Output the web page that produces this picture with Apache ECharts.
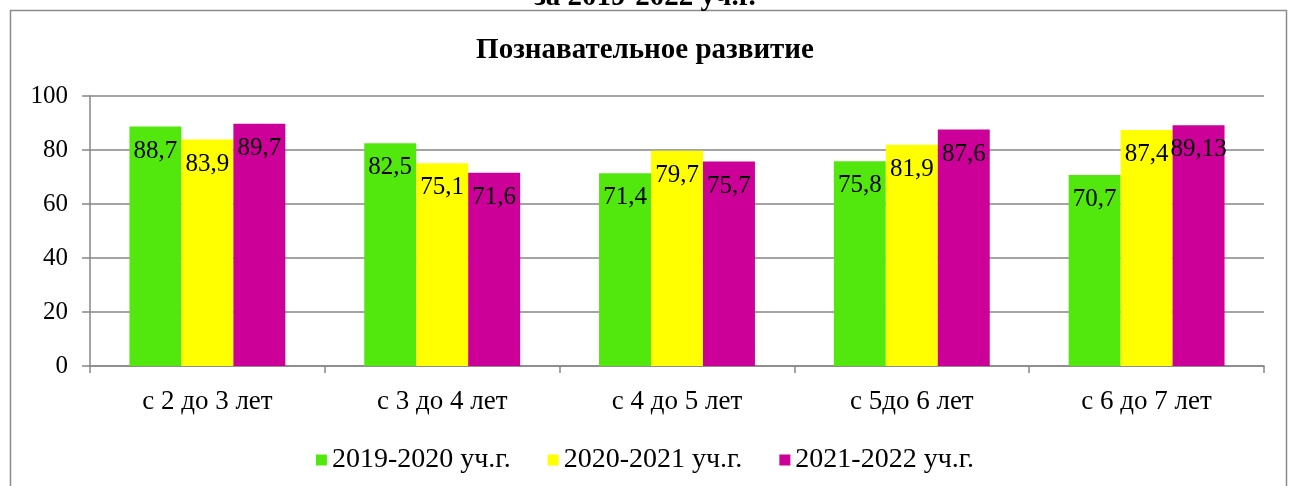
<!DOCTYPE html>
<html>
<head>
<meta charset="utf-8">
<script src="https://cdn.jsdelivr.net/npm/echarts@6/dist/echarts.min.js"></script>
<style>
  html, body { margin: 0; padding: 0; background: #fff; }
  #chart { width: 1290px; height: 486px; }
</style>
</head>
<body>
<div id="chart"></div>
<script>
// данные диаграммы
const categories = ['с 2 до 3 лет', 'с 3 до 4 лет', 'с 4 до 5 лет', 'с 5до 6 лет', 'с 6 до 7 лет']
const seriesNames = ['2019-2020 уч.г.', '2020-2021 уч.г.', '2021-2022 уч.г.']
const values2019 = [88.7, 82.5, 71.4, 75.8, 70.7]
const values2020 = [83.9, 75.1, 79.7, 81.9, 87.4]
const values2021 = [89.7, 71.6, 75.7, 87.6, 89.13]
const labels2021 = ['89,7', '71,6', '75,7', '87,6', '89,13']
const yTicks = [0, 20, 40, 60, 80, 100]

const colors = ['#52E80E', '#FFFF00', '#CC0099']
const font = '"Liberation Serif", "Times New Roman", serif'

const chart = echarts.init(document.getElementById('chart'))

const makeSeries = (name, data, color, labels) => ({
  name,
  type: 'bar',
  data,
  barGap: '0%',
  barCategoryGap: '33.6%',
  itemStyle: { color },
  label: {
    show: true,
    position: 'insideTop',
    distance: 12,
    color: '#000',
    fontFamily: font,
    fontSize: 25,
    formatter: p => labels ? labels[p.dataIndex] : String(p.value).replace('.', ',')
  }
})

const option = {
  animation: false,
  textStyle: { fontFamily: font },
  graphic: [
    {
      type: 'rect',
      shape: { x: 10.5, y: 10.5, width: 1276, height: 500 },
      style: { fill: 'none', stroke: '#8c8c8c', lineWidth: 1.5 },
      silent: true
    },
    {
      type: 'text',
      left: 'center',
      top: -17,
      style: { text: 'за 2019-2022 уч.г.', font: 'bold 29px ' + font, fill: '#000' }
    }
  ],
  title: {
    text: 'Познавательное развитие',
    left: 'center',
    top: 31,
    textStyle: { fontFamily: font, fontSize: 29, fontWeight: 'bold', color: '#000' }
  },
  legend: {
    top: 441,
    left: 'center',
    itemWidth: 11,
    itemHeight: 11,
    itemGap: 37,
    icon: 'rect',
    textStyle: { fontFamily: font, fontSize: 28, color: '#000', padding: [0, 0, 0, 0] },
    data: seriesNames
  },
  grid: { left: 90, right: 26, top: 96, bottom: 120, containLabel: false },
  xAxis: {
    type: 'category',
    data: categories,
    axisLine: { lineStyle: { color: '#868686', width: 1.5 } },
    axisTick: { show: true, length: 7, inside: false, lineStyle: { color: '#868686', width: 1.5 } },
    axisLabel: { fontFamily: font, fontSize: 27, color: '#000', margin: 22 }
  },
  yAxis: {
    type: 'value',
    min: yTicks[0],
    max: yTicks[yTicks.length - 1],
    interval: 20,
    axisLine: { show: true, lineStyle: { color: '#868686', width: 1.5 } },
    axisTick: { show: true, length: 8, lineStyle: { color: '#868686', width: 1.5 } },
    splitLine: { lineStyle: { color: '#868686', width: 1.5 } },
    axisLabel: { fontFamily: font, fontSize: 25, color: '#000', margin: 22 }
  },
  series: [
    makeSeries(seriesNames[0], values2019, colors[0]),
    makeSeries(seriesNames[1], values2020, colors[1]),
    makeSeries(seriesNames[2], values2021, colors[2], labels2021)
  ]
}

chart.setOption(option)
</script>
</body>
</html>
